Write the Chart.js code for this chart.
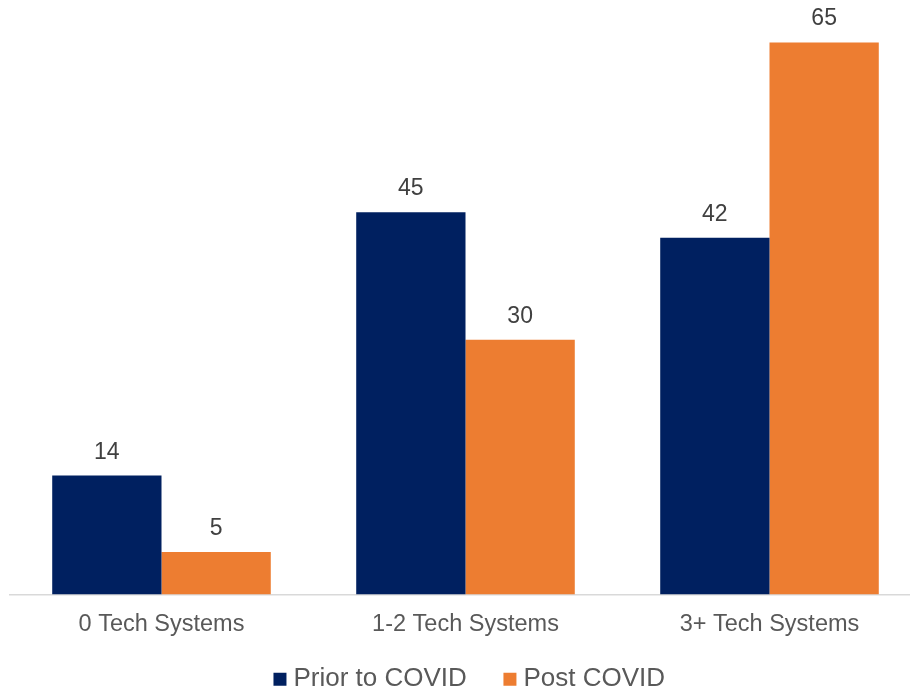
<!DOCTYPE html>
<html>
<head>
<meta charset="utf-8">
<script src="https://cdn.jsdelivr.net/npm/chart.js@4"></script>
<style>
    body { margin: 0; background: #fff; }
    #frame { width: 910px; height: 687px; overflow: hidden; position: relative; }
    #box { width: 935px; height: 721px; position: absolute; left: 0; top: 0; }
</style>
</head>
<body>
<div id="frame">
    <div id="box"><canvas id="techChart"></canvas></div>
</div>
<script>
const categories = ['0 Tech Systems', '1-2 Tech Systems', '3+ Tech Systems'];
const seriesNames = ['Prior to COVID', 'Post COVID'];
const priorValues = [14, 45, 42];
const postValues = [5, 30, 65];
const seriesColors = ['#002060', '#ED7D31'];

const fontFamily = "'Liberation Sans', Arial, sans-serif";

// numbers above each bar
const barLabels = {
    id: 'barLabels',
    afterDatasetsDraw(chart) {
        const ctx = chart.ctx;
        ctx.save();
        ctx.font = '23px ' + fontFamily;
        ctx.fillStyle = '#404040';
        ctx.textAlign = 'center';
        ctx.textBaseline = 'alphabetic';
        chart.data.datasets.forEach((ds, i) => {
            chart.getDatasetMeta(i).data.forEach((bar, j) => {
                ctx.fillText(ds.data[j], bar.x, bar.y - 17);
            });
        });
        ctx.restore();
    }
};

// the wide legend padding pushes the items down, pull the legend up a bit
const legendNudge = {
    id: 'legendNudge',
    afterLayout(chart) {
        chart.legend.top -= 18.7;
        chart.legend.bottom -= 18.7;
    }
};

new Chart(document.getElementById('techChart').getContext('2d'), {
    type: 'bar',
    data: {
        labels: categories,
        datasets: [
            { label: seriesNames[0], data: priorValues, backgroundColor: seriesColors[0] },
            { label: seriesNames[1], data: postValues, backgroundColor: seriesColors[1] }
        ]
    },
    options: {
        responsive: true,
        maintainAspectRatio: false,
        animation: false,
        categoryPercentage: 0.719,
        barPercentage: 1,
        layout: { padding: { left: 9.5, top: 0, right: 0, bottom: 0 } },
        scales: {
            x: {
                grid: { display: false, drawTicks: false },
                border: { display: true, color: '#d9d9d9', width: 1.5 },
                ticks: {
                    color: '#595959',
                    padding: 16,
                    font: { family: fontFamily, size: 23.5 }
                },
                afterFit: s => { s.height = 48; }
            },
            y: {
                position: 'right',
                min: 0,
                max: 70,
                grid: { display: false, drawTicks: false },
                border: { display: false },
                ticks: { display: false },
                afterFit: s => { s.width = 13.5; }
            }
        },
        plugins: {
            tooltip: { enabled: false },
            legend: {
                position: 'bottom',
                labels: {
                    usePointStyle: true,
                    pointStyle: 'rect',
                    boxWidth: 1,
                    boxHeight: 13,
                    padding: 42.6,
                    color: '#595959',
                    font: { family: fontFamily, size: 26 }
                }
            }
        }
    },
    plugins: [barLabels, legendNudge]
});
</script>
</body>
</html>
